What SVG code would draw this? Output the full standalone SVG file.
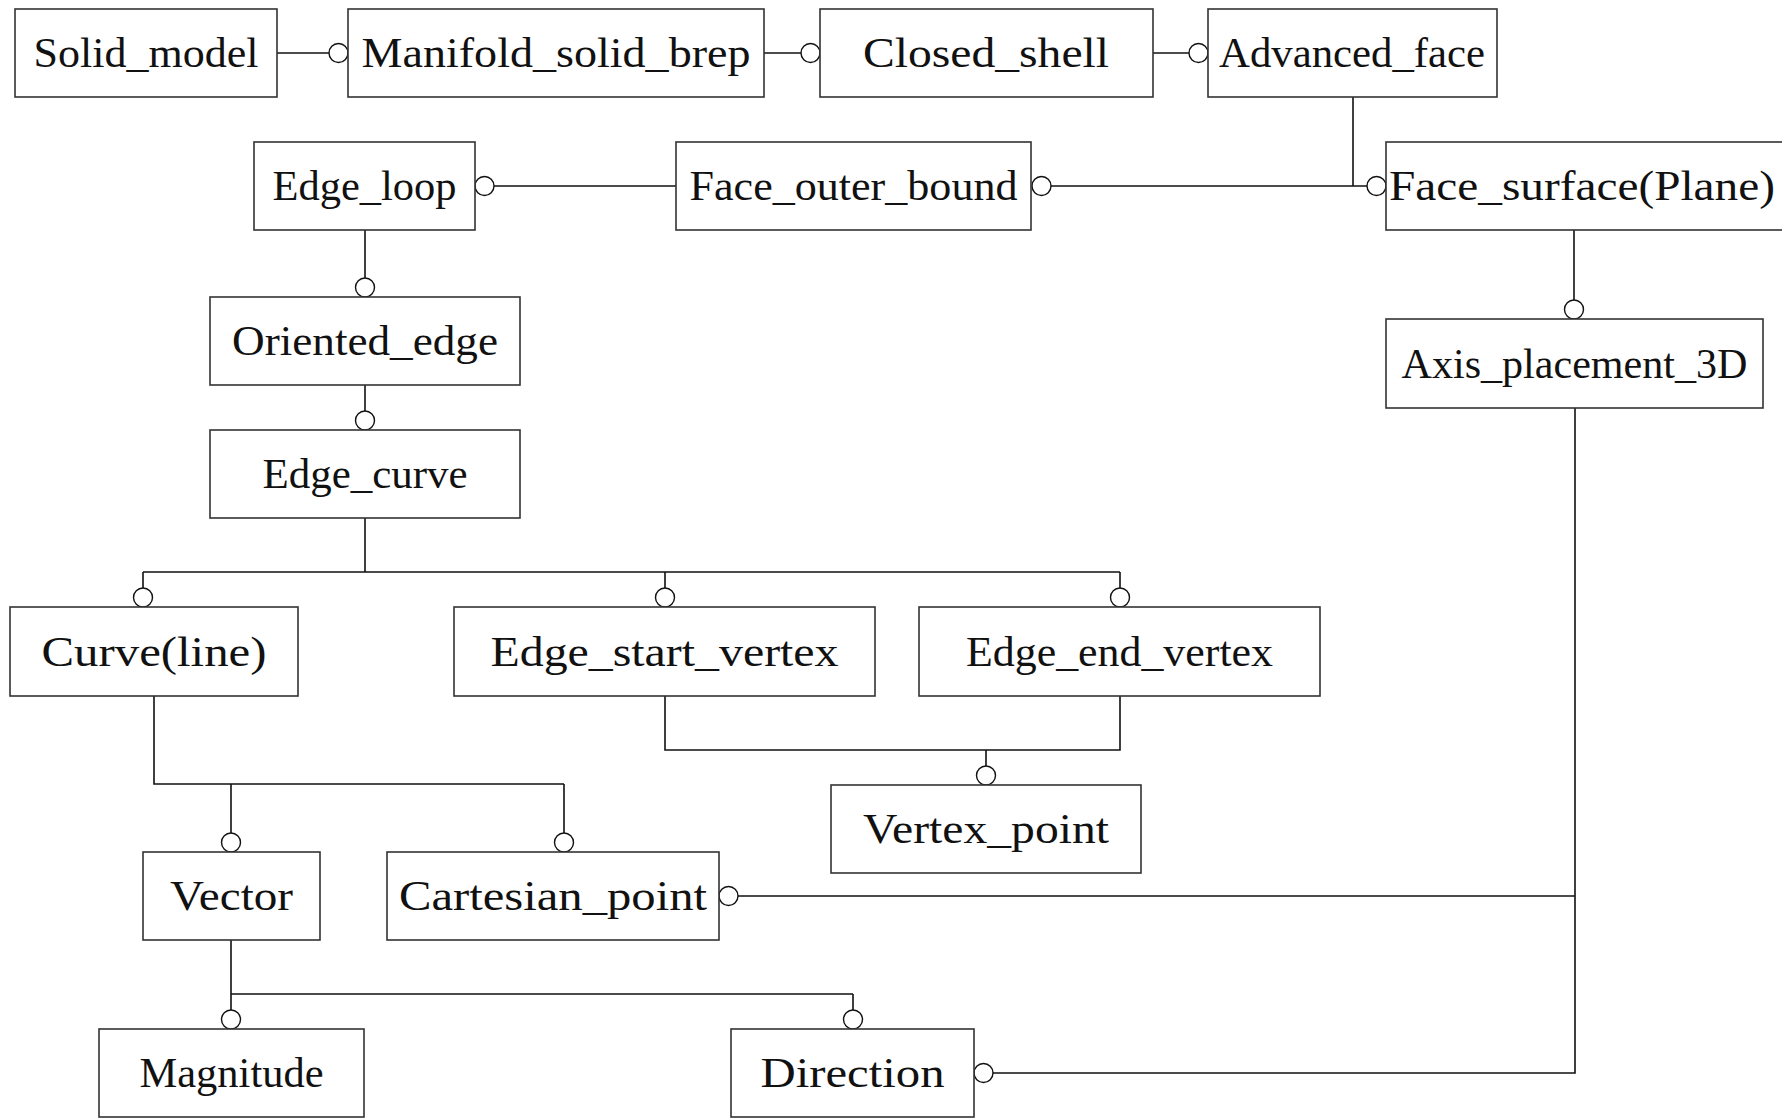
<svg xmlns="http://www.w3.org/2000/svg" width="1782" height="1118" viewBox="0 0 1782 1118">
<style>
.box{fill:#fff;stroke:#333;stroke-width:1.6}
.lbl{font-family:"Liberation Serif","Noto Serif CJK SC","Noto Sans CJK SC",serif;font-size:42px;fill:#111;text-anchor:middle}
.ln{fill:none;stroke:#111;stroke-width:1.6}
.c{fill:#fff;stroke:#111;stroke-width:1.4}
</style>
<rect width="1782" height="1118" fill="#fff"/>
<g id="connectors">
<path class="ln" d="M277,53H329"/>
<path class="ln" d="M764,53H801"/>
<path class="ln" d="M1153,53H1189"/>
<path class="ln" d="M1353,97V186"/>
<path class="ln" d="M1051,186H1367"/>
<path class="ln" d="M494,186H676"/>
<path class="ln" d="M365,230V278"/>
<path class="ln" d="M365,385V411"/>
<path class="ln" d="M365,518V572M143,572H1120M143,572V588M665,572V588M1120,572V588"/>
<path class="ln" d="M665,696V750H1120V696M986,750V766"/>
<path class="ln" d="M154,696V784H564M231,784V833M564,784V833"/>
<path class="ln" d="M231,940V994H853M231,994V1010M853,994V1010"/>
<path class="ln" d="M1574,230V300"/>
<path class="ln" d="M1575,408V1073H993M1575,896H738"/>
<circle class="c" cx="338.5" cy="53" r="9.5"/>
<circle class="c" cx="810.5" cy="53" r="9.5"/>
<circle class="c" cx="1198.5" cy="53" r="9.5"/>
<circle class="c" cx="1376.5" cy="186" r="9.5"/>
<circle class="c" cx="1041.5" cy="186" r="9.5"/>
<circle class="c" cx="484.5" cy="186" r="9.5"/>
<circle class="c" cx="365" cy="287.5" r="9.5"/>
<circle class="c" cx="365" cy="420.5" r="9.5"/>
<circle class="c" cx="143" cy="597.5" r="9.5"/>
<circle class="c" cx="665" cy="597.5" r="9.5"/>
<circle class="c" cx="1120" cy="597.5" r="9.5"/>
<circle class="c" cx="986" cy="775.5" r="9.5"/>
<circle class="c" cx="231" cy="842.5" r="9.5"/>
<circle class="c" cx="564" cy="842.5" r="9.5"/>
<circle class="c" cx="231" cy="1019.5" r="9.5"/>
<circle class="c" cx="853" cy="1019.5" r="9.5"/>
<circle class="c" cx="1574" cy="309.5" r="9.5"/>
<circle class="c" cx="728.5" cy="896" r="9.5"/>
<circle class="c" cx="983.5" cy="1073" r="9.5"/>
</g>
<g id="solid_model"><rect class="box" x="15" y="9" width="262" height="88"/><text class="lbl" x="146" y="67" textLength="225" lengthAdjust="spacingAndGlyphs">Solid_model</text></g>
<g id="manifold_solid_brep"><rect class="box" x="348" y="9" width="416" height="88"/><text class="lbl" x="556" y="67" textLength="389" lengthAdjust="spacingAndGlyphs">Manifold_solid_brep</text></g>
<g id="closed_shell"><rect class="box" x="820" y="9" width="333" height="88"/><text class="lbl" x="986" y="67" textLength="246" lengthAdjust="spacingAndGlyphs">Closed_shell</text></g>
<g id="advanced_face"><rect class="box" x="1208" y="9" width="289" height="88"/><text class="lbl" x="1352" y="67" textLength="266" lengthAdjust="spacingAndGlyphs">Advanced_face</text></g>
<g id="edge_loop"><rect class="box" x="254" y="142" width="221" height="88"/><text class="lbl" x="364.5" y="200" textLength="184" lengthAdjust="spacingAndGlyphs">Edge_loop</text></g>
<g id="face_outer_bound"><rect class="box" x="676" y="142" width="355" height="88"/><text class="lbl" x="853.5" y="200" textLength="328" lengthAdjust="spacingAndGlyphs">Face_outer_bound</text></g>
<g id="face_surface"><rect class="box" x="1386" y="142" width="400" height="88"/><text class="lbl" x="1582" y="200" textLength="386" lengthAdjust="spacingAndGlyphs">Face_surface(Plane)</text></g>
<g id="axis_placement_3d"><rect class="box" x="1386" y="319" width="377" height="89"/><text class="lbl" x="1574.5" y="378" textLength="346" lengthAdjust="spacingAndGlyphs">Axis_placement_3D</text></g>
<g id="oriented_edge"><rect class="box" x="210" y="297" width="310" height="88"/><text class="lbl" x="365" y="355" textLength="266" lengthAdjust="spacingAndGlyphs">Oriented_edge</text></g>
<g id="edge_curve"><rect class="box" x="210" y="430" width="310" height="88"/><text class="lbl" x="365" y="488" textLength="205" lengthAdjust="spacingAndGlyphs">Edge_curve</text></g>
<g id="curve_line"><rect class="box" x="10" y="607" width="288" height="89"/><text class="lbl" x="154" y="666" textLength="225" lengthAdjust="spacingAndGlyphs">Curve(line)</text></g>
<g id="edge_start_vertex"><rect class="box" x="454" y="607" width="421" height="89"/><text class="lbl" x="664.5" y="666" textLength="348" lengthAdjust="spacingAndGlyphs">Edge_start_vertex</text></g>
<g id="edge_end_vertex"><rect class="box" x="919" y="607" width="401" height="89"/><text class="lbl" x="1119.5" y="666" textLength="307" lengthAdjust="spacingAndGlyphs">Edge_end_vertex</text></g>
<g id="vertex_point"><rect class="box" x="831" y="785" width="310" height="88"/><text class="lbl" x="986" y="843" textLength="246" lengthAdjust="spacingAndGlyphs">Vertex_point</text></g>
<g id="vector"><rect class="box" x="143" y="852" width="177" height="88"/><text class="lbl" x="231.5" y="910" textLength="123" lengthAdjust="spacingAndGlyphs">Vector</text></g>
<g id="cartesian_point"><rect class="box" x="387" y="852" width="332" height="88"/><text class="lbl" x="553" y="910" textLength="308" lengthAdjust="spacingAndGlyphs">Cartesian_point</text></g>
<g id="magnitude"><rect class="box" x="99" y="1029" width="265" height="88"/><text class="lbl" x="231.5" y="1087" textLength="184" lengthAdjust="spacingAndGlyphs">Magnitude</text></g>
<g id="direction"><rect class="box" x="731" y="1029" width="243" height="88"/><text class="lbl" x="852.5" y="1087" textLength="184" lengthAdjust="spacingAndGlyphs">Direction</text></g>
</svg>
